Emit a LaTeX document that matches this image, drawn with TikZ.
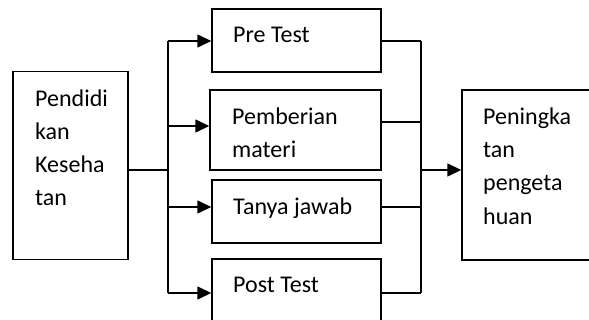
\documentclass[tikz,border=0pt]{standalone}
\usepackage{fontspec}
\setmainfont{Carlito}
\usetikzlibrary{arrows.meta}
\begin{document}
\begin{tikzpicture}[x=1pt,y=-1pt,
  box/.style={draw=black,line width=1.4pt,rectangle,inner sep=0pt},
  txt/.style={anchor=base west,inner sep=0pt,font=\fontsize{24}{33}\selectfont},
  conn/.style={draw=black,line width=1.4pt},
  arr/.style={conn,-{Triangle[length=14pt,width=13pt]}}]
\useasboundingbox[fill=white] (0,0) rectangle (589,320);
% boxes
\node[box,minimum width=115pt,minimum height=188pt] (L) at (70.5,165.5) {};
\node[box,minimum width=169pt,minimum height=63pt] (P1) at (296.5,40.5) {};
\node[box,minimum width=171pt,minimum height=80pt] (P2) at (295.5,130) {};
\node[box,minimum width=169pt,minimum height=63pt] (P3) at (296.5,211.5) {};
\node[box,minimum width=169pt,minimum height=63pt] (P4) at (296.5,290.5) {};
\node[box,minimum width=130pt,minimum height=170pt] (R) at (527,175) {};
% texts
\node[txt] (l1) at (35,107) {Pendidi};
\node[txt] (l2) at (35,140) {kan};
\node[txt] (l3) at (35,173) {Keseha};
\node[txt] (l4) at (35,206) {tan};
\node[txt] (p1) at (233,43) {Pre Test};
\node[txt] (p2a) at (232,125) {Pemberian};
\node[txt] (p2b) at (232,158) {materi};
\node[txt] (p3) at (233,215) {Tanya jawab};
\node[txt] (p4) at (233,293) {Post Test};
\node[txt] (r1) at (483,125) {Peningka};
\node[txt] (r2) at (483,158) {tan};
\node[txt] (r3) at (483,191) {pengeta};
\node[txt] (r4) at (483,225) {huan};
% left bus
\coordinate (bl) at (168,170);
\coordinate (bl1) at (168,41);
\coordinate (bl2) at (168,126);
\coordinate (bl3) at (168,207);
\coordinate (bl4) at (168,293);
\draw[conn] (L.east |- bl) -- (bl);
\draw[conn] (bl1) -- (bl4);
\draw[arr] (bl1) -- (P1.west |- bl1);
\draw[arr] (bl2) -- (P2.west |- bl2);
\draw[arr] (bl3) -- (P3.west |- bl3);
\draw[arr] (bl4) -- (P4.west |- bl4);
% right bus
\coordinate (br) at (421,170);
\coordinate (br1) at (421,41);
\coordinate (br2) at (421,122);
\coordinate (br3) at (421,207);
\coordinate (br4) at (421,293);
\draw[conn] (P1.east |- br1) -- (br1);
\draw[conn] (P2.east |- br2) -- (br2);
\draw[conn] (P3.east |- br3) -- (br3);
\draw[conn] (P4.east |- br4) -- (br4);
\draw[conn] (br1) -- (br4);
\draw[arr] (br) -- (R.west |- br);
\end{tikzpicture}
\end{document}
